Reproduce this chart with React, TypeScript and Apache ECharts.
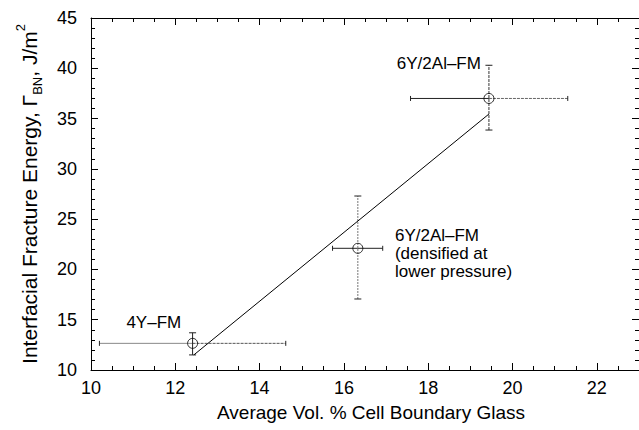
import React, { useEffect, useRef } from "react";
import * as echarts from "echarts";

// Measured points (x = average vol.% cell boundary glass, y = fracture energy)
const pointX = [12.41, 16.33, 19.44];
const pointY = [12.65, 22.1, 37.0];
const xErrLow = [10.2, 15.73, 17.58];
const xErrHigh = [14.62, 16.92, 21.31];
const yErrLow = [11.5, 17.06, 33.86];
const yErrHigh = [13.7, 27.3, 40.3];

// Fitted line
const fitX = [12.44, 19.44];
const fitY = [11.5, 35.45];

// Annotations (anchor in data coordinates)
const noteText = ["4Y–FM", "6Y/2Al–FM", "6Y/2Al–FM\n(densified at\nlower pressure)"];
const noteX = [12.14, 19.25, 17.21];
const noteY = [14.77, 40.52, 24.3];
const noteAlign = ["right", "right", "left"];
const noteVAlign = ["middle", "middle", "top"];

// Scanned look of the error-bar segments: [left half, right half, vertical]
const segColor = [
  ["#888", "#555", "#222"],
  ["#222", "#222", "#777"],
  ["#222", "#666", "#333"],
];
const segDash = [
  [null, [3, 1], null],
  [null, null, [2, 1]],
  [null, [3, 1], [3, 1]],
];

const xMin = 10;
const xMax = 23;
const yMin = 10;
const yMax = 45;

const FONT = "'Liberation Sans', Arial, Helvetica, sans-serif";

export default function App() {
  const ref = useRef<HTMLDivElement>(null);

  useEffect(() => {
    if (!ref.current) return;
    const chart = echarts.init(ref.current, undefined, { renderer: "svg" });

    const errData = pointX.map((x, i) => [x, pointY[i], xErrLow[i], xErrHigh[i], yErrLow[i], yErrHigh[i]]);
    const noteData = noteX.map((x, i) => [x, noteY[i]]);

    const lineStyle = { color: "#000", width: 1 };
    const baseX = {
      type: "value",
      min: xMin,
      max: xMax,
      gridIndex: 0,
      splitLine: { show: false },
    };
    const baseY = {
      type: "value",
      min: yMin,
      max: yMax,
      interval: 5,
      gridIndex: 0,
      splitLine: { show: false },
    };

    const option: any = {
      animation: false,
      backgroundColor: "#fff",
      textStyle: { fontFamily: FONT },
      grid: { left: 91, right: 0, top: 18, bottom: 60 },
      xAxis: [
        {
          ...baseX,
          position: "bottom",
          interval: 2,
          axisLine: { show: true, lineStyle },
          axisTick: { show: true, inside: true, length: 7, lineStyle },
          axisLabel: {
            show: true,
            showMaxLabel: false,
            margin: 9,
            fontSize: 18,
            color: "#000",
            fontFamily: FONT,
          },
          name: "Average Vol. % Cell Boundary Glass",
          nameLocation: "middle",
          nameGap: 33,
          nameTextStyle: { fontSize: 19, color: "#000", fontFamily: FONT, padding: [0, 0, 0, 12] },
        },
        {
          ...baseX,
          position: "bottom",
          interval: 0.5,
          axisLine: { show: false },
          axisTick: { show: true, inside: true, length: 4, lineStyle },
          axisLabel: { show: false },
        },
        {
          ...baseX,
          position: "top",
          interval: 2,
          axisLine: { show: true, lineStyle },
          axisTick: { show: true, inside: true, length: 7, lineStyle },
          axisLabel: { show: false },
        },
        {
          ...baseX,
          position: "top",
          interval: 0.5,
          axisLine: { show: false },
          axisTick: { show: true, inside: true, length: 4, lineStyle },
          axisLabel: { show: false },
        },
      ],
      yAxis: [
        {
          ...baseY,
          position: "left",
          axisLine: { show: true, lineStyle },
          axisTick: { show: true, inside: true, length: 7, lineStyle },
          minorTick: { show: true, splitNumber: 5, length: 4, lineStyle },
          axisLabel: { show: true, margin: 14, fontSize: 18, color: "#000", fontFamily: FONT },
          name: "Interfacial Fracture Energy, Γ{sub|BN}, J/m{sup|2}",
          nameLocation: "middle",
          nameGap: 47,
          nameTextStyle: {
            fontSize: 21,
            color: "#000",
            fontFamily: FONT,
            lineHeight: 30,
            rich: {
              sub: { fontSize: 13, lineHeight: 15, verticalAlign: "bottom", fontFamily: FONT, color: "#000" },
              sup: { fontSize: 13, lineHeight: 15, verticalAlign: "top", fontFamily: FONT, color: "#000" },
            },
          },
        },
        {
          ...baseY,
          position: "right",
          axisLine: { show: true, lineStyle },
          axisTick: { show: true, inside: true, length: 7, lineStyle },
          minorTick: { show: true, splitNumber: 5, length: 4, lineStyle },
          axisLabel: { show: false },
        },
      ],
      series: [
        {
          type: "line",
          xAxisIndex: 0,
          yAxisIndex: 0,
          data: fitX.map((x, i) => [x, fitY[i]]),
          symbol: "none",
          lineStyle: { color: "#000", width: 1 },
          silent: true,
        },
        {
          type: "custom",
          xAxisIndex: 0,
          yAxisIndex: 0,
          data: errData,
          renderItem: (params: any, api: any) => {
            const i = params.dataIndex;
            const x = api.value(0);
            const y = api.value(1);
            const c = api.coord([x, y]);
            const l = api.coord([api.value(2), y]);
            const r = api.coord([api.value(3), y]);
            const b = api.coord([x, api.value(4)]);
            const t = api.coord([x, api.value(5)]);
            const st = (k: number) => ({ stroke: segColor[i][k], lineWidth: 1, lineDash: segDash[i][k] || undefined });
            const cap = { stroke: "#222", lineWidth: 1 };
            const vc = 3.5;
            const hc = 2.5;
            return {
              type: "group",
              children: [
                { type: "line", shape: { x1: l[0], y1: c[1], x2: c[0], y2: c[1] }, style: st(0) },
                { type: "line", shape: { x1: c[0], y1: c[1], x2: r[0], y2: c[1] }, style: st(1) },
                { type: "line", shape: { x1: l[0], y1: c[1] - hc, x2: l[0], y2: c[1] + hc }, style: cap },
                { type: "line", shape: { x1: r[0], y1: c[1] - hc, x2: r[0], y2: c[1] + hc }, style: cap },
                { type: "line", shape: { x1: c[0], y1: b[1], x2: c[0], y2: t[1] }, style: st(2) },
                { type: "line", shape: { x1: c[0] - vc, y1: b[1], x2: c[0] + vc, y2: b[1] }, style: cap },
                { type: "line", shape: { x1: c[0] - vc, y1: t[1], x2: c[0] + vc, y2: t[1] }, style: cap },
              ],
            };
          },
          silent: true,
        },
        {
          type: "scatter",
          xAxisIndex: 0,
          yAxisIndex: 0,
          data: pointX.map((x, i) => [x, pointY[i]]),
          symbol: "circle",
          symbolSize: 10,
          itemStyle: { color: "rgba(0,0,0,0)", borderColor: "#000", borderWidth: 1 },
          silent: true,
        },
        {
          type: "custom",
          xAxisIndex: 0,
          yAxisIndex: 0,
          data: noteData,
          renderItem: (params: any, api: any) => {
            const i = params.dataIndex;
            const p = api.coord([api.value(0), api.value(1)]);
            return {
              type: "text",
              x: p[0],
              y: p[1],
              style: {
                text: noteText[i],
                fill: "#000",
                font: `17px ${FONT}`,
                align: noteAlign[i],
                verticalAlign: noteVAlign[i],
                lineHeight: 18,
              },
            };
          },
          silent: true,
        },
      ],
    };

    chart.setOption(option);
    return () => chart.dispose();
  }, []);

  return (
    <div
      ref={ref}
      style={{ position: "fixed", left: 0, top: 0, width: 639, height: 430, background: "#fff" }}
    />
  );
}
